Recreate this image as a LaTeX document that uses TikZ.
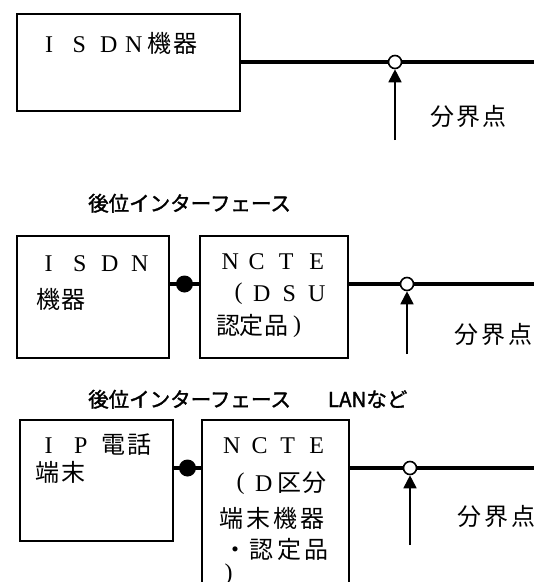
\documentclass[tikz,border=0pt]{standalone}
\usepackage{fontspec}
\setmainfont{Liberation Serif}
\newfontfamily\jp{Noto Sans CJK JP}
\newfontfamily\jpb[FakeBold=1.6]{Noto Sans CJK JP}
\usetikzlibrary{arrows.meta}
\newcommand\ch[2]{\rlap{\hspace*{#1pt}\makebox[0pt]{#2}}}
\newcommand\lp{\raisebox{2pt}{(}}
\newcommand\rp{\raisebox{2pt}{)}}
\begin{document}
\begin{tikzpicture}[x=1pt,y=-1pt,
  box/.style={draw, line width=2pt, inner sep=0pt},
  wire/.style={line width=4.5pt},
  txt/.style={inner sep=0pt, anchor=base west, font=\fontsize{24pt}{24pt}\selectfont},
  lbl/.style={inner sep=0pt, anchor=base west, font=\jpb\fontsize{20.5pt}{20.5pt}\selectfont},
  opendot/.style={circle, draw, line width=1.6pt, fill=white, minimum size=13pt, inner sep=0pt},
  soliddot/.style={circle, fill=black, minimum size=17pt, inner sep=0pt},
  pointer/.style={line width=1.8pt, -{Triangle[length=13pt,width=13pt]}}]
\useasboundingbox (0,0) rectangle (534,582);
\fill[white] (0,0) rectangle (534,582);

% ---------- section 1
\node[box, minimum width=223pt, minimum height=97pt] (a1) at (128.5,62.5) {};
\node[opendot] (o1) at (395,62) {};
\coordinate (e1) at (540,62);
\coordinate (s1) at (395,140);
\draw[wire] (a1.east |- o1) -- (o1.west);
\draw[wire] (o1.east) -- (e1);
\draw[pointer] (s1) -- (o1.south);
\node[txt] (t1) at (0,52) {\ch{48.5}{I}\ch{78.5}{S}\ch{108}{D}\ch{133}{N}\ch{159}{\jp 機}\ch{185}{\jp 器}};
\node[txt] (k1) at (0,125) {\jp\ch{442}{分}\ch{468}{界}\ch{494}{点}};

% ---------- section 2
\node[lbl] (l2) at (88,211) {後位インターフェース};
\node[box, minimum width=152pt, minimum height=122pt] (b1) at (93,297) {};
\node[box, minimum width=148pt, minimum height=122pt] (b2) at (274,297) {};
\node[soliddot] (d2) at (184.5,284) {};
\node[opendot] (o2) at (407,284) {};
\coordinate (e2) at (540,284);
\coordinate (s2) at (407,354);
\draw[wire] (b1.east |- d2) -- (b2.west |- d2);
\draw[wire] (b2.east |- o2) -- (o2.west);
\draw[wire] (o2.east) -- (e2);
\draw[pointer] (s2) -- (o2.south);
\node[txt] (t2a) at (0,271) {\ch{48}{I}\ch{79}{S}\ch{109}{D}\ch{139}{N}};
\node[txt] (t2b) at (0,308) {\jp\ch{47.5}{機}\ch{73}{器}};
\node[txt] (t2c) at (0,269) {\ch{229.5}{N}\ch{256}{C}\ch{285.5}{T}\ch{316}{E}};
\node[txt] (t2d) at (0,301) {\ch{238}{\lp}\ch{261}{D}\ch{288.5}{S}\ch{316}{U}};
\node[txt] (t2e) at (0,334) {\ch{228}{\jp 認}\ch{251}{\jp 定}\ch{276}{\jp 品}\ch{296.5}{\rp}};
\node[txt] (k2) at (0,343) {\jp\ch{466}{分}\ch{493}{界}\ch{520}{点}};

% ---------- section 3
\node[lbl] (l3) at (88,407) {後位インターフェース\hspace{37pt}LANなど};
\node[box, minimum width=153pt, minimum height=121pt] (c1) at (96.5,480.5) {};
\node[box, minimum width=147pt, minimum height=189pt] (c2) at (275.5,514.5) {};
\node[soliddot] (d3) at (187.5,468) {};
\node[opendot] (o3) at (410,468) {};
\coordinate (e3) at (540,468);
\coordinate (s3) at (410,545);
\draw[wire] (c1.east |- d3) -- (c2.west |- d3);
\draw[wire] (c2.east |- o3) -- (o3.west);
\draw[wire] (o3.east) -- (e3);
\draw[pointer] (s3) -- (o3.south);
\node[txt] (t3a) at (0,453.5) {\ch{48}{I}\ch{80}{P}\ch{113}{\jp 電}\ch{139}{\jp 話}};
\node[txt] (t3b) at (0,481) {\jp\ch{47}{端}\ch{73}{末}};
\node[txt] (t3c) at (0,453) {\ch{231}{N}\ch{259}{C}\ch{287}{T}\ch{316}{E}};
\node[txt] (t3d) at (0,491) {\ch{240}{\lp}\ch{263}{D}\ch{289}{\jp 区}\ch{314}{\jp 分}};
\node[txt] (t3e) at (0,527) {\jp\ch{231}{端}\ch{258}{末}\ch{285}{機}\ch{312}{器}};
\node[txt] (t3f) at (0,558) {\jp\ch{234.5}{・}\ch{261}{認}\ch{289}{定}\ch{316}{品}};
\node[txt] (t3g) at (0,582.5) {\ch{228}{\rp}};
\node[txt] (k3) at (0,525) {\jp\ch{469}{分}\ch{496}{界}\ch{523}{点}};
\end{tikzpicture}
\end{document}
